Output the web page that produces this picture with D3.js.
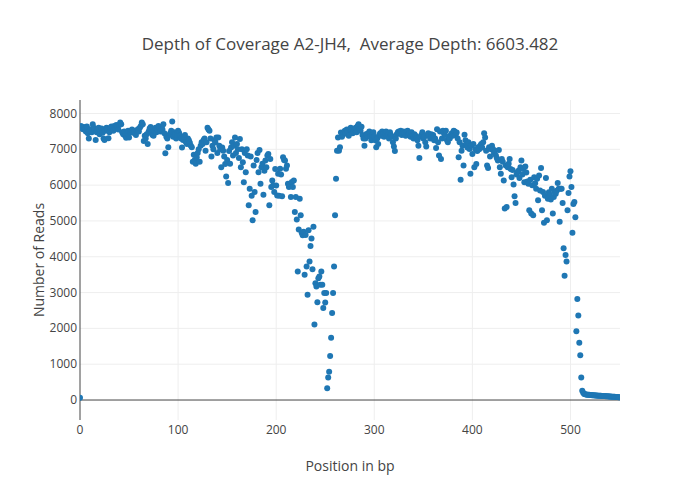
<!DOCTYPE html>
<html>
<head>
<meta charset="utf-8">
<script src="https://cdn.jsdelivr.net/npm/d3@7"></script>
<style>
  body { margin: 0; background: #fff; }
  text { font-family: "Open Sans", sans-serif; fill: #444; }
</style>
</head>
<body>
<script>
const width = 700;
const height = 500;
const margin = { l: 80, r: 80, t: 100, b: 80 };

const title = "Depth of Coverage A2-JH4,  Average Depth: 6603.482";
const xTitle = "Position in bp";
const yTitle = "Number of Reads";
const xTicks = [0, 100, 200, 300, 400, 500];
const yTicks = [0, 1000, 2000, 3000, 4000, 5000, 6000, 7000, 8000];

// read depth per base position, position 0 first
const depth = [
  60,
  7650, 7600, 7560, 7620, 7580, 7500, 7640, 7450, 7300, 7520, // 1
  7560, 7480, 7700, 7600, 7550, 7260, 7480, 7530, 7600, 7420,
  7500, 7580, 7460, 7300, 7260, 7520, 7600, 7550, 7310, 7480,
  7600, 7640, 7580, 7520, 7650, 7600, 7680, 7620, 7550, 7680,
  7750, 7700, 7480, 7420, 7500, 7380, 7320, 7450, 7520, 7330,
  7480, 7500, 7550, 7460, 7520, 7480, 7400, 7520, 7560, 7500, // 51
  7600, 7650, 7750, 7700, 7230, 7380, 7300, 7420, 7150, 7500,
  7580, 7620, 7450, 7400, 7380, 7520, 7600, 7480, 7550, 7650,
  7600, 7500, 7620, 7560, 7700, 7450, 6890, 7350, 7300, 7060,
  7400, 7450, 7520, 7780, 7350, 7480, 7420, 7300, 7400, 7520,
  7460, 7380, 7300, 7050, 7260, 7350, 7400, 7200, 7150, 7300, // 101
  7250, 7180, 7100, 7060, 6650, 6850, 6700, 6600, 6780, 6900,
  7000, 6650, 7100, 7200, 7150, 7260, 7300, 6960, 7200, 7600,
  7550, 7520, 7300, 6800, 7100, 7000, 7250, 7200, 7330, 6900,
  7330, 7100, 7000, 6500, 7050, 6960, 6800, 6590, 6240, 6700,
  6060, 6950, 6600, 7050, 7200, 6830, 7100, 7330, 6900, 7150, // 151
  7000, 6760, 7290, 6500, 7000, 6640, 6080, 6900, 6360, 7000,
  6830, 5440, 5900, 6800, 5700, 5020, 6550, 5810, 5250, 6700,
  6900, 6360, 6980, 6040, 6500, 6600, 5730, 6400, 6690, 6500,
  6830, 6870, 5440, 6730, 5950, 6130, 6000, 5810, 6450, 5990,
  5710, 6320, 5700, 6460, 6300, 5690, 6780, 6700, 6690, 6460, // 201
  6550, 6040, 5950, 6040, 5670, 6090, 5950, 6130, 5250, 5670,
  5040, 3590, 4760, 5620, 5160, 4670, 4600, 4700, 3500, 4610,
  3730, 2940, 4740, 3870, 4300, 4510, 3650, 4840, 2110, 3260,
  3170, 2730, 3400, 3450, 3220, 3590, 3220, 2570, 2990, 2720,
  2990, 330, 630, 790, 1230, 1740, 2430, 2990, 3730, 5160, // 251
  6180, 6960, 7330, 6960, 7060, 7470, 7350, 7400, 7480, 7520,
  7450, 7550, 7500, 7380, 7560, 7600, 7520, 7450, 7500, 7550,
  7600, 7480, 7650, 7700, 7560, 7520, 7630, 7400, 7300, 7100,
  7300, 7430, 7380, 7450, 7500, 7350, 7250, 7400, 7480, 7350,
  7250, 7060, 7300, 7150, 7400, 7450, 7380, 7500, 7420, 7350, // 301
  7450, 7500, 7380, 7420, 7300, 7480, 7400, 7350, 7200, 7080,
  6950, 7300, 7420, 7480, 7500, 7450, 7520, 7400, 7480, 7500,
  7450, 7380, 7500, 7520, 7420, 7450, 7350, 7480, 7400, 7300,
  7420, 7380, 7300, 7250, 7100, 6760, 7350, 7400, 7480, 7300,
  7350, 7200, 7080, 7400, 7450, 7380, 7300, 7420, 7350, 7400, // 351
  7250, 7300, 7040, 7560, 7200, 6830, 7500, 6730, 7300, 7520,
  7450, 7400, 7520, 7260, 7200, 7350, 7300, 7400, 7450, 7380,
  7520, 7500, 7400, 7470, 7300, 6780, 7200, 6150, 6960, 7100,
  6550, 7410, 7250, 7150, 7050, 7200, 7010, 6320, 7100, 6870,
  7150, 6500, 7000, 6590, 6950, 7060, 7000, 7100, 7150, 7050, // 401
  7200, 7450, 7330, 6960, 6550, 6480, 7060, 6800, 7000, 7100,
  7010, 6900, 6960, 6830, 6750, 6690, 6980, 6500, 6320, 6730,
  6650, 6130, 5350, 6550, 5390, 6500, 6600, 6730, 6450, 6220,
  6420, 6020, 5690, 5500, 6300, 6360, 6400, 6200, 6500, 6690,
  6300, 6450, 6080, 6520, 6350, 6100, 6040, 5300, 6150, 5210, // 451
  6000, 5160, 6220, 6050, 5900, 6180, 5580, 6270, 5850, 6480,
  5300, 5810, 4950, 5700, 6200, 5020, 5620, 5800, 5720, 5600,
  5900, 5210, 5670, 5800, 5760, 5840, 6060, 5900, 4980, 5900,
  5900, 5500, 4240, 3470, 4050, 3870, 5300, 5780, 6240, 6390,
  5950, 4670, 5470, 5530, 5100, 1920, 2820, 2360, 1600, 1250, // 501
  630, 260, 200, 170, 160, 155, 150, 148, 145, 140,
  138, 136, 133, 131, 128, 127, 125, 122, 120, 119,
  116, 115, 112, 110, 109, 106, 104, 103, 100, 98,
  97, 94, 93, 90, 89, 86, 85, 82, 80, 78
];
const positions = d3.range(depth.length);

const x = d3.scaleLinear().domain([0, 550.5]).range([margin.l, width - margin.r]);
const y = d3.scaleLinear().domain([-558, 8377]).range([height - margin.b, margin.t]);

const svg = d3.select("body")
  .append("svg")
  .attr("width", width)
  .attr("height", height);

// grid
svg.append("g")
  .selectAll("line.ygrid")
  .data(yTicks.filter(d => d !== 0))
  .enter()
  .append("line")
  .attr("x1", margin.l).attr("x2", width - margin.r)
  .attr("y1", d => y(d)).attr("y2", d => y(d))
  .style("stroke", "#eee");

svg.append("g")
  .selectAll("line.xgrid")
  .data(xTicks.filter(d => d !== 0))
  .enter()
  .append("line")
  .attr("y1", margin.t).attr("y2", height - margin.b)
  .attr("x1", d => x(d)).attr("x2", d => x(d))
  .style("stroke", "#eee");

// zero lines
svg.append("line")
  .attr("x1", margin.l).attr("x2", width - margin.r)
  .attr("y1", y(0)).attr("y2", y(0))
  .style("stroke", "#444").style("stroke-width", 1);
svg.append("line")
  .attr("y1", margin.t).attr("y2", height - margin.b)
  .attr("x1", x(0)).attr("x2", x(0))
  .style("stroke", "#444").style("stroke-width", 1);

// tick labels
svg.append("g")
  .selectAll("text")
  .data(yTicks)
  .enter()
  .append("text")
  .attr("x", margin.l - 3)
  .attr("y", d => y(d) + 4)
  .attr("text-anchor", "end")
  .style("font-size", "12px")
  .text(d => d);

svg.append("g")
  .selectAll("text")
  .data(xTicks)
  .enter()
  .append("text")
  .attr("x", d => x(d))
  .attr("y", height - margin.b + 14)
  .attr("text-anchor", "middle")
  .style("font-size", "12px")
  .text(d => d);

// points
svg.append("clipPath")
  .attr("id", "plotclip")
  .append("rect")
  .attr("x", margin.l).attr("y", margin.t)
  .attr("width", width - margin.l - margin.r)
  .attr("height", height - margin.t - margin.b);

svg.append("g")
  .attr("clip-path", "url(#plotclip)")
  .selectAll("circle")
  .data(positions)
  .enter()
  .append("circle")
  .attr("cx", d => x(d))
  .attr("cy", d => y(depth[d]))
  .attr("r", 3)
  .style("fill", "#1f77b4");

// titles
svg.append("text")
  .attr("x", width / 2)
  .attr("y", 50)
  .attr("text-anchor", "middle")
  .style("font-size", "17px")
  .style("white-space", "pre")
  .text(title);

svg.append("text")
  .attr("x", width / 2)
  .attr("y", 471)
  .attr("text-anchor", "middle")
  .style("font-size", "14px")
  .text(xTitle);

svg.append("text")
  .attr("transform", `translate(44,${(margin.t + height - margin.b) / 2}) rotate(-90)`)
  .attr("text-anchor", "middle")
  .style("font-size", "14px")
  .text(yTitle);
</script>
</body>
</html>
